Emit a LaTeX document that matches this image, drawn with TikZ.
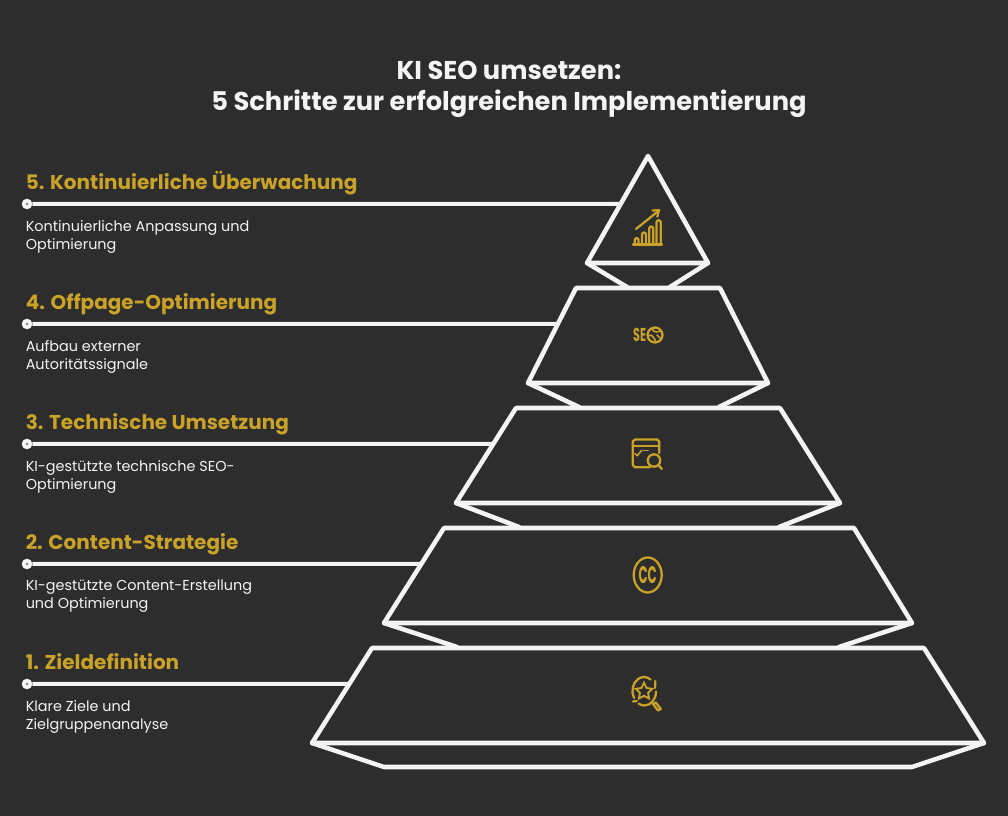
\documentclass[tikz,border=0pt]{standalone}
\usepackage{fontspec}
\setmainfont{Poppins}
\usetikzlibrary{shapes.geometric,calc}
\definecolor{bgdark}{HTML}{2D2D2D}
\definecolor{chalk}{HTML}{F4F4F4}
\definecolor{gold}{HTML}{C9A227}
\tikzset{
    layerline/.style={draw=chalk, line width=3.4pt, line join=round, line cap=round},
    leader/.style={draw=chalk, line width=3pt},
    enddot/.style={circle, fill=chalk, draw=chalk, inner sep=0pt, minimum size=7.5pt},
    heading/.style={text=gold, font=\fontsize{15}{18}\selectfont\bfseries, anchor=base west, inner sep=0pt},
    desc/.style={text=chalk, font=\fontsize{10.8}{13.5}\selectfont, anchor=north west, align=left, inner sep=0pt},
    bigtitle/.style={text=chalk, font=\fontsize{19.3}{23.2}\selectfont\bfseries, align=center, inner sep=0pt},
    icon/.style={draw=gold, line width=1.7pt, line cap=round, line join=round},
    icontext/.style={text=gold, font=\fontsize{13}{13}\selectfont\bfseries, inner sep=0pt}
}
\begin{document}
\begin{tikzpicture}[x=0.75pt,y=-0.75pt]
    \fill[bgdark] (0,0) rectangle (1008,816);
    \useasboundingbox (0,0) rectangle (1008,816);

    \node[bigtitle] (title) at (509,89.5) {KI SEO umsetzen:\\5 Schritte zur erfolgreichen Implementierung};

    % Pyramid
    \draw[layerline] (648,156) coordinate (top5) -- (708,263) coordinate (br5) -- (587,263) coordinate (bl5) -- cycle;
    \draw[layerline] (bl5) -- (627,287);
    \draw[layerline] (br5) -- (670,287);

    \draw[layerline] (576,288) coordinate (tl4) -- (720,288) -- (768,383) coordinate (br4) -- (528,383) coordinate (bl4) -- cycle;
    \draw[layerline] (bl4) -- (579,407);
    \draw[layerline] (br4) -- (719,407);

    \draw[layerline] (516,408) coordinate (tl3) -- (780,408) -- (840,503) coordinate (br3) -- (456,503) coordinate (bl3) -- cycle;
    \draw[layerline] (bl3) -- (519,527);
    \draw[layerline] (br3) -- (779,527);

    \draw[layerline] (444,528) coordinate (tl2) -- (854,528) -- (912,623) coordinate (br2) -- (384,623) coordinate (bl2) -- cycle;
    \draw[layerline] (bl2) -- (457,647);
    \draw[layerline] (br2) -- (839,647);

    \draw[layerline] (372,648) coordinate (tl1) -- (924,648) -- (984,743) coordinate (br1) -- (312,743) coordinate (bl1) -- cycle;
    \draw[layerline] (bl1) -- (384,767) -- (912,767) -- (br1);

    % Leader lines
    \node[enddot] (dot5) at (27,204) {};
    \node[enddot] (dot4) at (27,324) {};
    \node[enddot] (dot3) at (27,444) {};
    \node[enddot] (dot2) at (27,564) {};
    \node[enddot] (dot1) at (27,684) {};
    \coordinate (edge5) at ($(top5)!0.4486!(bl5)$);
    \coordinate (edge4) at ($(tl4)!0.3789!(bl4)$);
    \coordinate (edge3) at ($(tl3)!0.3789!(bl3)$);
    \coordinate (edge2) at ($(tl2)!0.3789!(bl2)$);
    \coordinate (edge1) at ($(tl1)!0.3789!(bl1)$);
    \draw[leader] (dot5) -- (edge5);
    \draw[leader] (dot4) -- (edge4);
    \draw[leader] (dot3) -- (edge3);
    \draw[leader] (dot2) -- (edge2);
    \draw[leader] (dot1) -- (edge1);
    \fill[bgdark!60] (27,204) circle (1pt) (27,324) circle (1pt) (27,444) circle (1pt) (27,564) circle (1pt) (27,684) circle (1pt);

    % Labels
    \node[heading] (head5) at (25.5,189.5) {5. Kontinuierliche Überwachung};
    \node[desc] (desc5) at (25.5,220) {Kontinuierliche Anpassung und\\Optimierung};
    \node[heading] (head4) at (25.5,309.5) {4. Offpage-Optimierung};
    \node[desc] (desc4) at (25.5,340) {Aufbau externer\\Autoritätssignale};
    \node[heading] (head3) at (25.5,429.5) {3. Technische Umsetzung};
    \node[desc] (desc3) at (25.5,460) {KI-gestützte technische SEO-\\Optimierung};
    \node[heading] (head2) at (25.5,549.5) {2. Content-Strategie};
    \node[desc] (desc2) at (25.5,580) {KI-gestützte Content-Erstellung\\und Optimierung};
    \node[heading] (head1) at (25.5,669.5) {1. Zieldefinition};
    \node[desc] (desc1) at (25.5,700) {Klare Ziele und\\Zielgruppenanalyse};

    % Chart icon
    \draw[icon] (633,244.5) -- (662,244.5);
    \draw[icon] (634.7,244.5) -- (634.7,239.5) arc (180:360:1.9) -- (638.5,244.5);
    \draw[icon] (642,244.5) -- (642,234.5) arc (180:360:2) -- (646,244.5);
    \draw[icon] (649.2,244.5) -- (649.2,228.5) arc (180:360:2) -- (653.2,244.5);
    \draw[icon] (656.4,244.5) -- (656.4,222.5) arc (180:360:2.2) -- (660.8,244.5);
    \draw[icon] (636,229) -- (659,210.5);
    \draw[icon] (652.5,210.5) -- (659,210.2) -- (657.3,216.7);

    % SEO icon
    \node[icontext, font=\fontsize{14}{14}\selectfont\bfseries, xscale=0.6] (seotext) at (639.7,335) {SE};
    \draw[icon] (655,335) circle (7.5);
    \draw[icon, line width=1.2pt] (648,336) .. controls (652,333) and (654,338) .. (656,342);
    \draw[icon, line width=1.2pt] (652,328.5) .. controls (653,333) and (658,332) .. (661,331);
    \draw[icon, line width=1.2pt] (657,335) -- (660,338);

    % Window and search icon
    \draw[icon] (650,467.3) -- (635,467.3) -- (632.8,465) -- (632.8,441.5) -- (635,439.5) -- (657,439.5) -- (659.3,441.5) -- (659.3,453);
    \draw[icon] (632.8,446) -- (659.3,446);
    \draw[icon, line width=1.2pt] (635,453.5) -- (637.3,455.7) -- (641.7,450.3);
    \draw[icon, line width=1.2pt] (643.5,450.7) -- (648.3,450.7);
    \draw[icon, fill=bgdark] (654,460.5) circle (6.2);
    \draw[icon] (658.5,465) -- (661.8,469);

    % CC icon
    \draw[icon] (647.7,575) ellipse (14 and 17.5);
    \node[icontext, font=\fontsize{18}{18}\selectfont\bfseries, xscale=0.5] (cctext) at (647.7,575.5) {CC};

    % Star search icon
    \draw[icon] (634,698) arc (150:305:11.5 and 14);
    \draw[icon] (656,691.5) arc (0:120:11.5 and 14);
    \draw[icon] (633,701.5) -- (637,701);
    \draw[icon] (655.3,681) -- (655,688);
    \node[star, star points=5, star point ratio=2, draw=gold, line width=1.4pt, inner sep=0pt, minimum size=13pt] (starmark) at (644,691.5) {};
    \draw[icon] (653,704) -- (658,710.5) -- (660.8,709) -- (655.8,702.5) -- cycle;
\end{tikzpicture}
\end{document}
